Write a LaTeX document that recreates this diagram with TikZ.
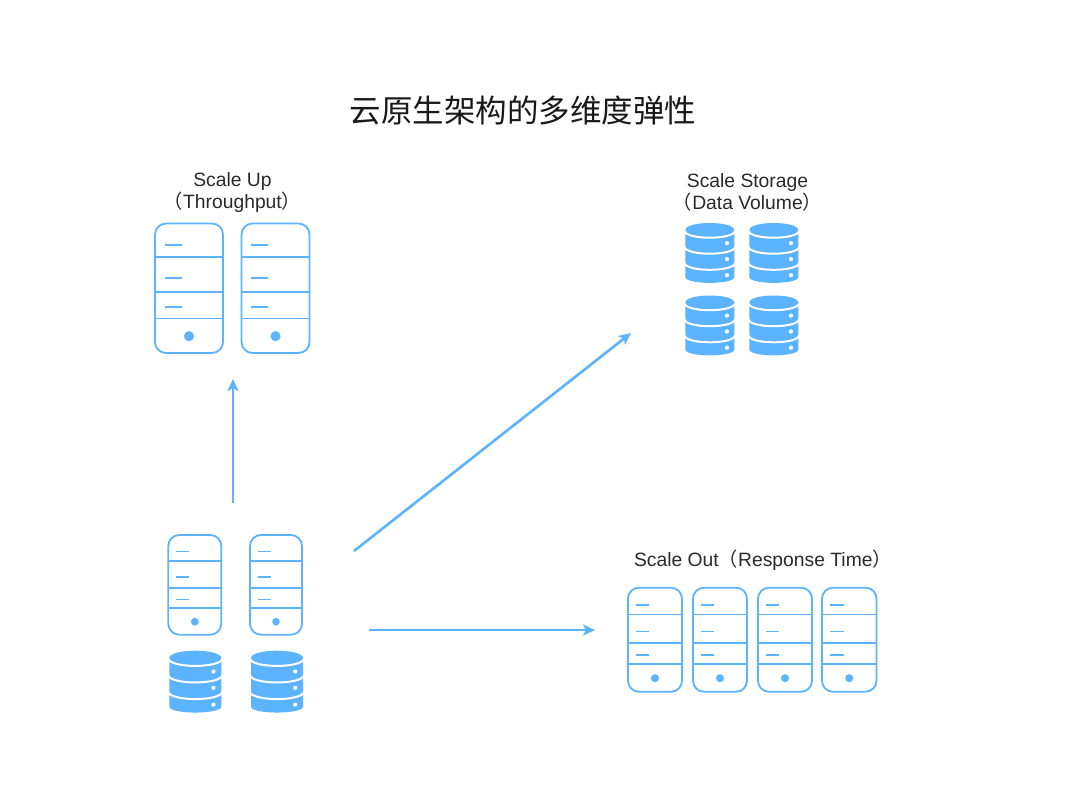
\documentclass[tikz,border=0pt]{standalone}
\usepackage{fontspec}
\setmainfont{Liberation Sans}
\newfontfamily\cjk{Noto Sans CJK SC}
\usetikzlibrary{arrows.meta}
\definecolor{scaleblue}{HTML}{5CB3FF}
\definecolor{labelgray}{HTML}{2A2A2A}
\tikzset{
  grouplabel/.style={font=\fontsize{19.3}{22}\selectfont, text=labelgray, inner sep=0pt, align=center},
  scalearrow/.style={-{Stealth[length=12pt,width=11pt,inset=3pt]}, line width=2.6pt, scaleblue}
}
% server: x, y, width, height
\newcommand{\serverbox}[4]{
  \begin{scope}[shift={(#1,#2)}, x=#3pt, y=-#4pt]
    \draw[line width=1.8pt, scaleblue, rounded corners=11pt] (0,0) rectangle (1,1);
    \draw[line width=1.7pt, scaleblue] (0,.259) -- (1,.259) (0,.529) -- (1,.529) (0,.734) -- (1,.734);
    \draw[line width=1.6pt, scaleblue] (.147,.166) -- (.397,.166) (.147,.42) -- (.397,.42) (.147,.645) -- (.397,.645);
    \fill[scaleblue] (.5,.87) circle[radius=0.074*#3 pt];
  \end{scope}
}
% database stack: x, y, width, height
\newcommand{\datastack}[4]{
  \begin{scope}[shift={(#1,#2)}, x=#3pt, y=-#4pt]
    \fill[scaleblue] (0,.12) .. controls (0,-.04) and (1,-.04) .. (1,.12) -- (1,.9) .. controls (1,1.03) and (0,1.03) .. (0,.9) -- cycle;
    \draw[line width=2pt, white] (-.02,.125) .. controls (0,.285) and (1,.285) .. (1.02,.125);
    \draw[line width=2pt, white] (-.02,.392) .. controls (0,.552) and (1,.552) .. (1.02,.392);
    \draw[line width=2pt, white] (-.02,.66) .. controls (0,.82) and (1,.82) .. (1.02,.66);
    \fill[white] (.85,.335) circle[radius=2.1pt];
    \fill[white] (.85,.6) circle[radius=2.1pt];
    \fill[white] (.85,.87) circle[radius=2.1pt];
  \end{scope}
}
\begin{document}
\begin{tikzpicture}[x=1pt, y=-1pt]
  \useasboundingbox[fill=white] (0,0) rectangle (1080,806);

  % Title
  \node[font=\cjk\fontsize{31.5}{36}\selectfont, text=black!90, inner sep=0pt] (title) at (523,110.5) {云原生架构的多维度弹性};

  % Scale Up
  \node[grouplabel] (uplabel) at (232.5,193) {Scale Up\\{\cjk（}Throughput{\cjk）}};
  \serverbox{155}{223.5}{68}{129.5}
  \serverbox{241.5}{223.5}{68}{129.5}

  % Scale Storage
  \node[grouplabel] (storagelabel) at (747.5,192.5) {Scale Storage\\{\cjk（}Data Volume{\cjk）}};
  \datastack{685.3}{223}{49}{60}
  \datastack{749.3}{223}{49}{60}
  \datastack{685.3}{295.5}{49}{60}
  \datastack{749.3}{295.5}{49}{60}

  % Scale Out
  \node[grouplabel] (outlabel) at (763,560.5) {Scale Out{\cjk（}Response Time{\cjk）}};
  \serverbox{628}{587.7}{54}{104}
  \serverbox{693}{587.7}{54}{104}
  \serverbox{758}{587.7}{54}{104}
  \serverbox{822}{587.7}{54.5}{104}

  % Current deployment
  \serverbox{168.3}{535}{53}{99.7}
  \serverbox{250}{535}{52}{99.7}
  \datastack{169.3}{650.7}{52}{62}
  \datastack{251}{650.7}{52}{62}

  % Arrows
  \coordinate (upstart) at (233,503);
  \coordinate (upend) at (233,379);
  \coordinate (storagestart) at (354,551);
  \coordinate (storageend) at (631,333);
  \coordinate (outstart) at (369,630);
  \coordinate (outend) at (595,630);
  \draw[scalearrow] (upstart) -- (upend);
  \draw[scalearrow] (storagestart) -- (storageend);
  \draw[scalearrow] (outstart) -- (outend);
\end{tikzpicture}
\end{document}
